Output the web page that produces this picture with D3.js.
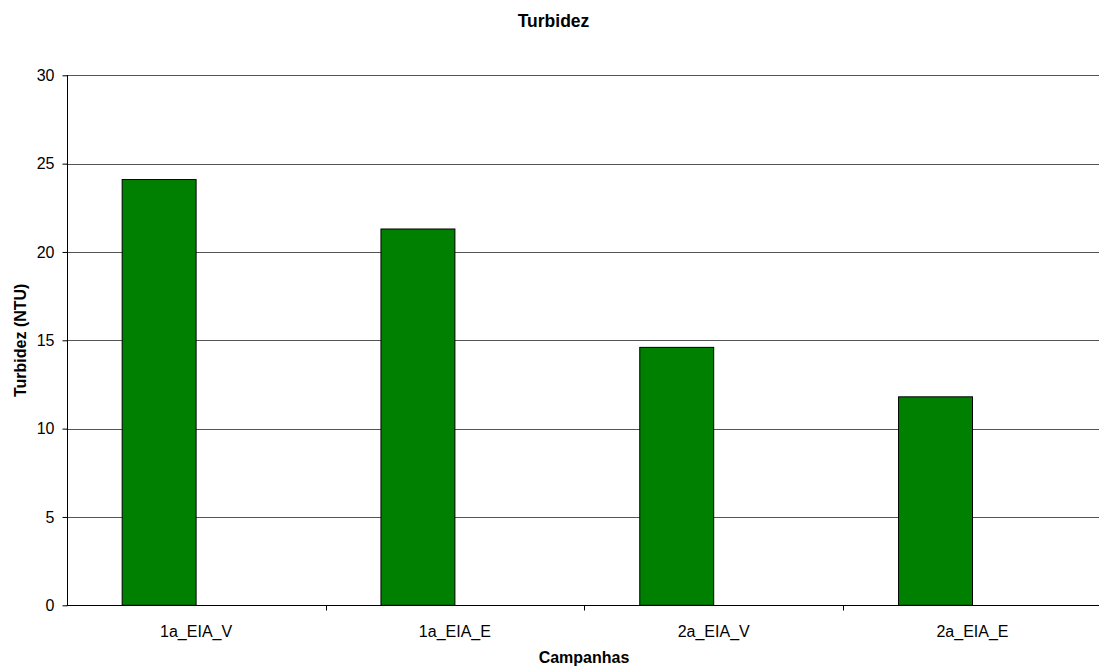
<!DOCTYPE html>
<html>
<head>
<meta charset="utf-8">
<script src="https://cdn.jsdelivr.net/npm/d3@7"></script>
<style>
  html, body { margin: 0; padding: 0; background: #fff; }
  svg { display: block; font-family: "Liberation Sans", Arial, sans-serif; }
</style>
</head>
<body>
<svg id="chart" width="1099" height="667"></svg>
<script>
// Turbidity per sampling campaign
const campanhas = ["1a_EIA_V", "1a_EIA_E", "2a_EIA_V", "2a_EIA_E"];
const turbidez = [24.1, 21.3, 14.6, 11.8];
const yTicks = [0, 5, 10, 15, 20, 25, 30];

const svg = d3.select("#chart");
const plotLeft = 66.7, plotRight = 1101.9, plotTop = 75.3, plotBottom = 605.3;
const fontSize = 16;

const x = d3.scaleBand().domain(campanhas).range([plotLeft, plotRight]).paddingInner(0).paddingOuter(0);
const y = d3.scaleLinear().domain([0, 30]).range([plotBottom, plotTop]);
// each category holds a bar slot plus an empty slot, with a 150% gap split on both sides
const barW = x.step() / 3.5;
const barOffset = barW * 0.75;

// horizontal gridlines
svg.append("g")
  .selectAll("line")
  .data(yTicks.filter(d => d > 0))
  .join("line")
  .attr("x1", plotLeft).attr("x2", plotRight)
  .attr("y1", d => Math.round(y(d)) + 0.5).attr("y2", d => Math.round(y(d)) + 0.5)
  .attr("stroke", "#555").attr("stroke-width", 1);

// bars
svg.append("g")
  .selectAll("rect")
  .data(campanhas)
  .join("rect")
  .attr("x", d => x(d) + barOffset)
  .attr("width", barW)
  .attr("y", (d, i) => y(turbidez[i]))
  .attr("height", (d, i) => y(0) - y(turbidez[i]))
  .attr("fill", "#008000")
  .attr("stroke", "#000")
  .attr("stroke-width", 1);

// y axis
const yAxis = d3.axisLeft(y).tickValues(yTicks).tickSize(5).tickPadding(8).tickFormat(d3.format("d"));
const gy = svg.append("g").attr("transform", `translate(${Math.round(plotLeft) + 0.5},0)`).call(yAxis);
gy.select(".domain").attr("stroke", "#000").attr("d", `M0,${plotTop}V${plotBottom}`);
gy.selectAll(".tick line").attr("stroke", "#000");
gy.selectAll(".tick text").attr("font-size", fontSize).attr("fill", "#000").attr("font-family", "Liberation Sans, Arial, sans-serif");

// x axis with ticks at category boundaries
const gx = svg.append("g").attr("transform", `translate(0,${Math.round(plotBottom) + 0.5})`);
gx.append("line").attr("x1", plotLeft).attr("x2", plotRight).attr("y1", 0).attr("y2", 0).attr("stroke", "#000");
gx.selectAll("line.tick")
  .data(campanhas.slice(1))
  .join("line")
  .attr("class", "tick")
  .attr("x1", d => Math.round(x(d)) + 0.5).attr("x2", d => Math.round(x(d)) + 0.5)
  .attr("y1", 0).attr("y2", 5)
  .attr("stroke", "#000");
gx.selectAll("text")
  .data(campanhas)
  .join("text")
  .attr("x", d => x(d) + x.bandwidth() / 2)
  .attr("y", 31)
  .attr("text-anchor", "middle")
  .attr("font-size", fontSize)
  .attr("fill", "#000")
  .text(d => d);

// titles
svg.append("text")
  .attr("x", 553.5).attr("y", 27)
  .attr("text-anchor", "middle")
  .attr("font-size", 17.5).attr("font-weight", "bold")
  .text("Turbidez");

svg.append("text")
  .attr("x", 584).attr("y", 663)
  .attr("text-anchor", "middle")
  .attr("font-size", fontSize).attr("font-weight", "bold")
  .text("Campanhas");

svg.append("text")
  .attr("transform", `translate(26,${(plotTop + plotBottom) / 2}) rotate(-90)`)
  .attr("text-anchor", "middle")
  .attr("font-size", fontSize).attr("font-weight", "bold")
  .text("Turbidez (NTU)");
</script>
</body>
</html>
